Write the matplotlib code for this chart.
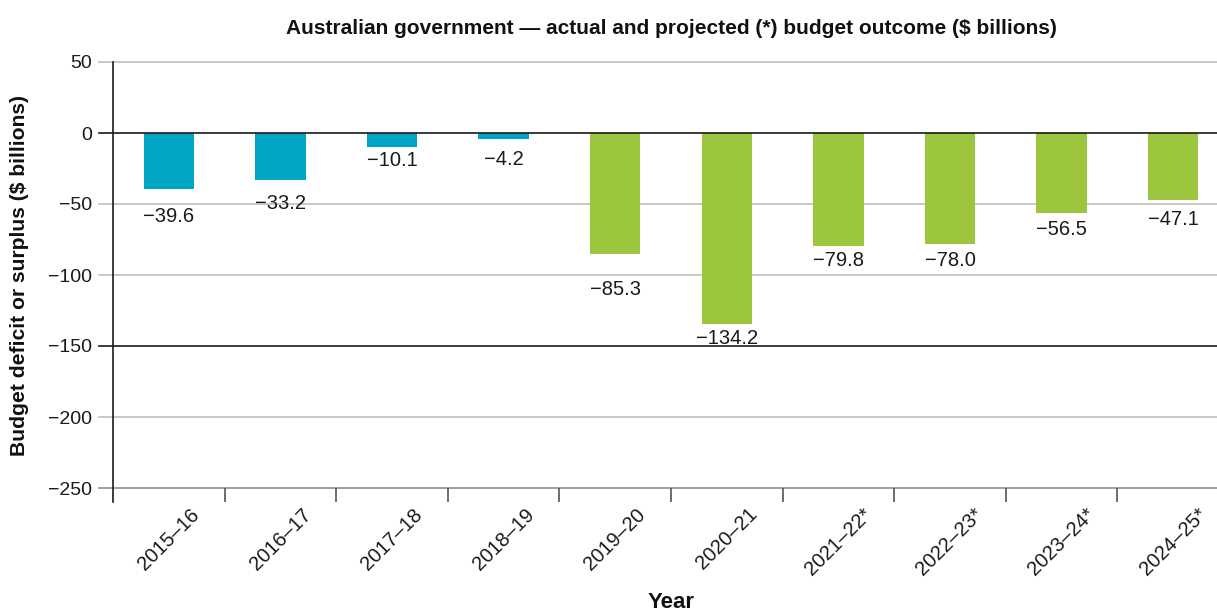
import matplotlib
matplotlib.use("Agg")
import matplotlib.pyplot as plt
import matplotlib.transforms as mtransforms

plt.rcParams['font.family'] = ['Liberation Sans', 'DejaVu Sans']

years = ['2015–16', '2016–17', '2017–18', '2018–19', '2019–20',
         '2020–21', '2021–22*', '2022–23*', '2023–24*', '2024–25*']
budget = [-39.6, -33.2, -10.1, -4.2, -85.3, -134.2, -79.8, -78.0, -56.5, -47.1]
covid = [False, False, False, False, True, True, True, True, True, True]

# distance (points) from bar end down to the label baseline
label_gap = [23.5, 21, 13.5, 18.7, 29.3, 14.9, 14.2, 16, 15.7, 18]

TEAL = '#00a6c4'
GREEN = '#9dc63f'

fig = plt.figure(figsize=(12.17, 6.13), dpi=100)
ax = fig.add_axes([113 / 1217, 125 / 613, 1116 / 1217, 426 / 613])

x = list(range(len(years)))
colors = [GREEN if c else TEAL for c in covid]
ax.bar(x, budget, width=0.45, color=colors, zorder=2)

ax.set_xlim(-0.5, len(years) - 0.5)
ax.set_ylim(-250, 50)

# horizontal rules, extending a little left of the y axis
blend = mtransforms.blended_transform_factory(ax.transAxes, ax.transData)
ext = -14 / 1116
for yv in [50, -50, -100, -200]:
    ax.plot([ext, 1], [yv, yv], transform=blend, color='#c4c4c4', lw=1.3,
            clip_on=False, zorder=1)
ax.plot([ext, 1], [-250, -250], transform=blend, color='#9a9a9a', lw=1.3,
        clip_on=False, zorder=1)
for yv in [0, -150]:
    ax.plot([ext, 1], [yv, yv], transform=blend, color='#1a1a1a', lw=1.2,
            clip_on=False, zorder=3)

# left axis line reaching down past the bottom rule
ax.plot([0, 0], [-260, 50], transform=blend, color='#1a1a1a', lw=1.2,
        clip_on=False, zorder=3)

for s in ax.spines.values():
    s.set_visible(False)

ax.set_yticks([50, 0, -50, -100, -150, -200, -250])
ax.tick_params(axis='y', length=0, pad=15, labelsize=14, labelcolor='#1a1a1a')

ax.set_xticks(x)
ax.set_xticklabels(years, rotation=45, ha='center', fontsize=14.5, color='#1a1a1a')
ax.tick_params(axis='x', which='major', length=0, pad=12)
ax.set_xticks([i + 0.5 for i in x[:-1]], minor=True)
ax.tick_params(axis='x', which='minor', length=10, width=1.2, color='#555555',
               direction='out')

for xi, v, g in zip(x, budget, label_gap):
    ax.annotate(f'−{abs(v):.1f}', xy=(xi, v), xytext=(0, -g),
                textcoords='offset points', ha='center', va='baseline',
                fontsize=14.5, color='#1a1a1a', zorder=4)

fig.text(671 / 1217, 1 - 28 / 613,
         'Australian government — actual and projected (*) budget outcome ($ billions)',
         ha='center', va='center', fontsize=15, fontweight='bold', color='#111111')
fig.text(20 / 1217, 1 - 275 / 613, 'Budget deficit or surplus ($ billions)',
         rotation=90, ha='center', va='center', fontsize=15.2, fontweight='bold',
         color='#111111')
fig.text(671 / 1217, 1 - 602 / 613, 'Year', ha='center', va='center',
         fontsize=16, fontweight='bold', color='#111111')

fig.savefig('out.png', dpi=100)
